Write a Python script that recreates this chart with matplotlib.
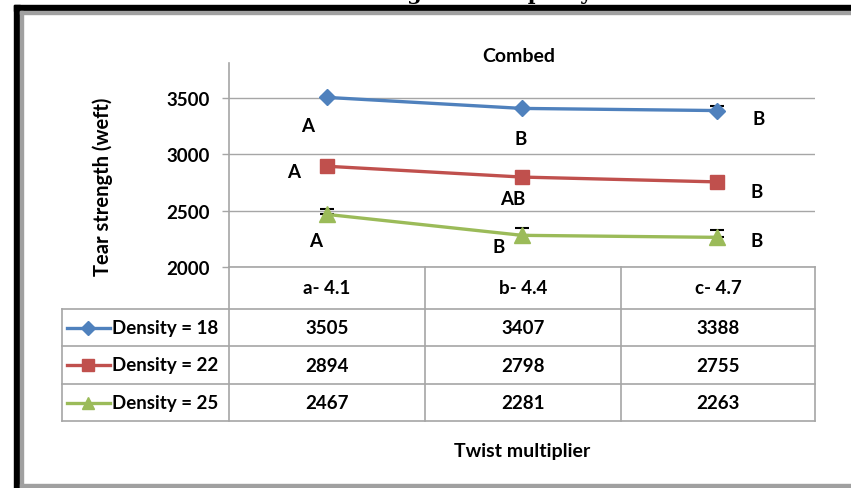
import matplotlib
matplotlib.use("Agg")
import matplotlib.pyplot as plt
from matplotlib.patches import Rectangle

categories = ["a- 4.1", "b- 4.4", "c- 4.7"]
series_names = ["Density = 18", "Density = 22", "Density = 25"]
d18 = [3505, 3407, 3388]
d22 = [2894, 2798, 2755]
d25 = [2467, 2281, 2263]
err18 = [0, 0, 40]
err22 = [0, 0, 0]
err25 = [50, 65, 65]
letters18 = ["A", "B", "B"]
letters22 = ["A", "AB", "B"]
letters25 = ["A", "B", "B"]
yticks = [2000, 2500, 3000, 3500]

colors = ["#4F81BD", "#C0504D", "#9BBB59"]
markers = ["D", "s", "^"]
msizes = [8, 10, 11]

plt.rcParams['font.family'] = ['Lato', 'DejaVu Sans']
FS = 13.5
W, H = 851, 489
fig = plt.figure(figsize=(W / 100, H / 100), dpi=100)
fig.patch.set_facecolor("white")

# pixel overlay axes
px = fig.add_axes([0, 0, 1, 1], zorder=0)
px.set_xlim(0, W)
px.set_ylim(H, 0)
px.axis("off")

# cut-off top caption (only descenders visible, as in the reference)
px.text(500, 0.5, "using carded spun yarns", family="DejaVu Serif", weight="bold",
        fontsize=15, ha="center", va="baseline", zorder=1, color="black")
# frame
px.add_patch(Rectangle((14, 6), W, 5.5, color="black", zorder=3))
px.add_patch(Rectangle((14, 6), 6, H, color="black", zorder=3))
px.add_patch(Rectangle((20, 12), W, 2.5, color="#A0A0A0", zorder=3))
px.add_patch(Rectangle((20, 12), 2.5, H, color="#A0A0A0", zorder=3))
px.add_patch(Rectangle((20, 485), W, 4, color="#A0A0A0", zorder=3))

# main axes
ax_left, ax_right, ax_top, ax_bot = 229, 815, 64, 268
ax = fig.add_axes([ax_left / W, 1 - ax_bot / H, (ax_right - ax_left) / W, (ax_bot - ax_top) / H], zorder=1)
ax.patch.set_alpha(0)
ax.set_xlim(-0.5, 2.5)
ax.set_ylim(2000, 3810)
ax.set_yticks(yticks)
ax.set_yticklabels([str(v) for v in yticks], fontsize=FS, fontweight="bold")
ax.set_xticks([])
for s in ["top", "right", "bottom"]:
    ax.spines[s].set_visible(False)
ax.spines["left"].set_color("#A6A6A6")
ax.spines["left"].set_linewidth(1.2)
ax.tick_params(axis="y", length=5, width=1, color="#A6A6A6", pad=9)
ax.grid(axis="y", color="#A6A6A6", linewidth=1)
ax.set_axisbelow(True)

xs = list(range(len(categories)))
all_series = [d18, d22, d25]
all_err = [err18, err22, err25]
for vals, errs, c, m, ms in zip(all_series, all_err, colors, markers, msizes):
    ax.errorbar(xs, vals, yerr=[[0] * len(errs), errs], fmt="none", ecolor="black",
                elinewidth=1, capsize=5, capthick=1.5, zorder=2)
    ax.plot(xs, vals, color=c, linewidth=2.4, marker=m, markersize=ms,
            markeredgecolor=c, zorder=3)

# significance letters (offsets relative to each point, in data units)
letter_pos = [
    (letters18, [(-0.10, -253), (-0.005, -270), (0.21, -74)], d18),
    (letters22, [(-0.167, -50), (-0.046, -194), (0.20, -89)], d22),
    (letters25, [(-0.055, -236), (-0.12, -103), (0.20, -32)], d25),
]
for labs, offs, vals in letter_pos:
    for i, (lab, (dx, dy)) in enumerate(zip(labs, offs)):
        ax.text(i + dx, vals[i] + dy, lab, fontsize=FS, fontweight="bold",
                ha="center", va="center")

px.text(519, 57, "Combed", ha="center", va="center", fontsize=14, fontweight="bold")

# y label
px.text(103, 187, "Tear strength (weft)", rotation=90, ha="center", va="center",
        fontsize=14.5, fontweight="bold")

# data table
gc = "#A6A6A6"
rows_y = [268, 310, 347, 385, 422]
col_x = [229, 425, 621, 815]
leg_left = 62
px.plot([ax_left, ax_right], [268, 268], color=gc, lw=1.2, zorder=2)
for y in rows_y[1:]:
    px.plot([leg_left, ax_right], [y, y], color=gc, lw=1.2, zorder=2)
for x in col_x:
    px.plot([x, x], [268, 422], color=gc, lw=1.2, zorder=2)
px.plot([leg_left, leg_left], [310, 422], color=gc, lw=1.2, zorder=2)

centers = [(col_x[i] + col_x[i + 1]) / 2 for i in range(3)]
for cx, cat in zip(centers, categories):
    px.text(cx, 289, cat, ha="center", va="center", fontsize=FS, fontweight="bold")
for r, (name, vals, c, m, ms) in enumerate(zip(series_names, all_series, colors, markers, msizes)):
    yc = (rows_y[r + 1] + rows_y[r + 2]) / 2
    px.plot([67, 110], [yc, yc], color=c, lw=2.4, zorder=2)
    px.plot([88], [yc], color=c, marker=m, markersize=ms * 0.85, markeredgecolor=c, zorder=2)
    px.text(112, yc, name, ha="left", va="center", fontsize=FS, fontweight="bold")
    for cx, v in zip(centers, vals):
        px.text(cx, yc, str(v), ha="center", va="center", fontsize=FS, fontweight="bold")

px.text(522, 452, "Twist multiplier", ha="center", va="center", fontsize=14, fontweight="bold")

fig.savefig("out.png", dpi=100, facecolor="white")
